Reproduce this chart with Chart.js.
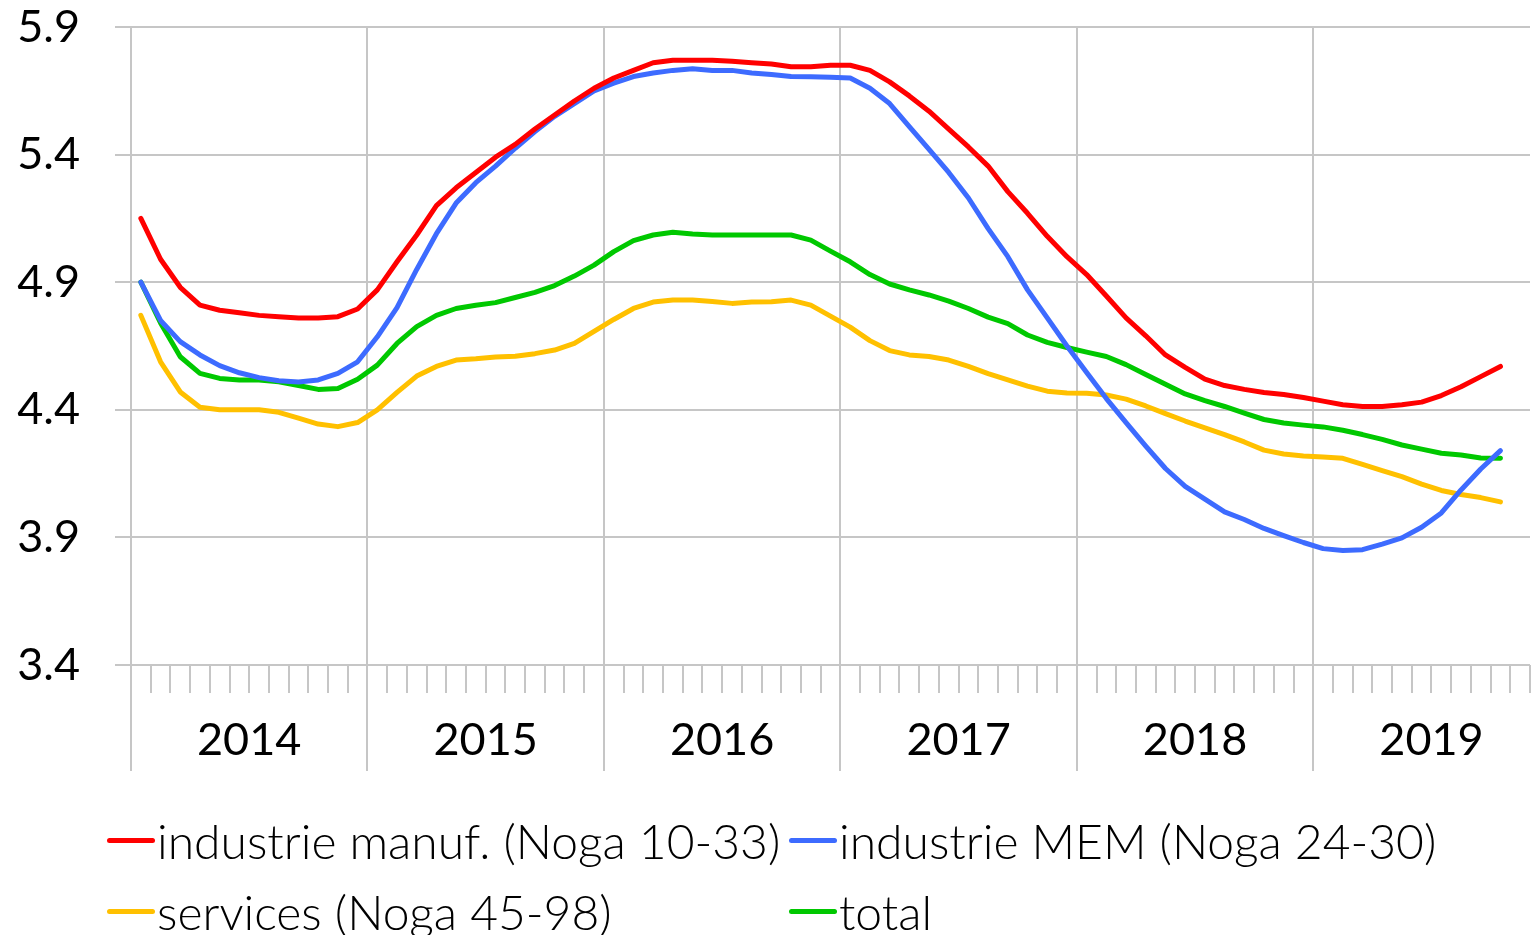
<!DOCTYPE html>
<html lang="fr">
<head>
<meta charset="utf-8">
<title>Noga</title>
<script src="https://cdn.jsdelivr.net/npm/chart.js@4.4.1/dist/chart.umd.min.js"></script>
<style>
    body { margin: 0; background: #fff; }
    #contenedor { position: relative; width: 1532px; height: 935px; }
    #leyenda {
        position: absolute; left: 107px; top: 805px;
        display: grid; grid-template-columns: 682px auto; grid-auto-rows: 71px;
        font-family: Lato, sans-serif; font-weight: 300; font-size: 48px; color: #000;
    }
    .item { display: flex; align-items: center; white-space: nowrap; }
    .marca { width: 48px; height: 5px; border-radius: 3px; margin-right: 2px; }
</style>
</head>
<body>
<div id="contenedor">
    <canvas id="grafico" width="1532" height="935"></canvas>
    <div id="leyenda"></div>
</div>
<script>
// Years on the axis (the last one stops in November)
const anios = [2014, 2015, 2016, 2017, 2018, 2019];
const mesesUltimoAnio = 11;

// Monthly values, Jan 2014 - Oct 2019
const manuf = [5.15, 4.99, 4.88, 4.81, 4.79, 4.78, 4.77, 4.765, 4.76, 4.76, 4.765, 4.795,
    4.87, 4.98, 5.085, 5.20, 5.27, 5.33, 5.39, 5.44, 5.50, 5.555, 5.61, 5.66,
    5.70, 5.73, 5.76, 5.77, 5.77, 5.77, 5.766, 5.76, 5.755, 5.744, 5.744, 5.75,
    5.75, 5.73, 5.685, 5.63, 5.57, 5.50, 5.43, 5.355, 5.255, 5.17, 5.08, 5.00,
    4.93, 4.846, 4.76, 4.69, 4.615, 4.566, 4.52, 4.495, 4.48, 4.468, 4.46, 4.448,
    4.434, 4.42, 4.413, 4.413, 4.42, 4.43, 4.456, 4.49, 4.53, 4.57];
const mem = [4.90, 4.75, 4.667, 4.615, 4.573, 4.545, 4.526, 4.514, 4.509, 4.517, 4.543, 4.588,
    4.686, 4.80, 4.95, 5.09, 5.21, 5.29, 5.355, 5.425, 5.49, 5.55, 5.60, 5.65,
    5.68, 5.706, 5.72, 5.73, 5.736, 5.73, 5.73, 5.72, 5.714, 5.706, 5.705, 5.703,
    5.70, 5.66, 5.60, 5.51, 5.42, 5.33, 5.23, 5.11, 5.00, 4.87, 4.76, 4.65,
    4.546, 4.444, 4.35, 4.258, 4.17, 4.10, 4.05, 4.00, 3.97, 3.935, 3.907, 3.88,
    3.856, 3.849, 3.852, 3.874, 3.898, 3.94, 3.996, 4.086, 4.168, 4.24];
const services = [4.77, 4.588, 4.47, 4.41, 4.40, 4.40, 4.40, 4.39, 4.367, 4.344, 4.334, 4.35,
    4.40, 4.468, 4.532, 4.57, 4.595, 4.60, 4.607, 4.61, 4.62, 4.634, 4.66, 4.707,
    4.754, 4.797, 4.822, 4.83, 4.83, 4.824, 4.817, 4.822, 4.823, 4.83, 4.81, 4.767,
    4.724, 4.671, 4.632, 4.615, 4.609, 4.595, 4.57, 4.542, 4.517, 4.493, 4.473, 4.466,
    4.465, 4.458, 4.442, 4.415, 4.385, 4.356, 4.329, 4.303, 4.274, 4.242, 4.227, 4.219,
    4.215, 4.21, 4.186, 4.162, 4.138, 4.109, 4.084, 4.068, 4.056, 4.039];
const total = [4.90, 4.74, 4.608, 4.543, 4.523, 4.517, 4.517, 4.51, 4.495, 4.48, 4.483, 4.52,
    4.575, 4.66, 4.726, 4.77, 4.797, 4.81, 4.82, 4.84, 4.86, 4.887, 4.924, 4.967,
    5.02, 5.063, 5.085, 5.096, 5.089, 5.085, 5.085, 5.085, 5.085, 5.085, 5.065, 5.022,
    4.98, 4.93, 4.893, 4.87, 4.85, 4.826, 4.797, 4.763, 4.738, 4.693, 4.664, 4.644,
    4.626, 4.609, 4.577, 4.538, 4.50, 4.462, 4.436, 4.413, 4.387, 4.362, 4.348, 4.34,
    4.333, 4.32, 4.303, 4.284, 4.262, 4.246, 4.23, 4.223, 4.211, 4.21];

const nombres = ['industrie manuf. (Noga 10-33)', 'industrie MEM (Noga 24-30)', 'services (Noga 45-98)', 'total'];
const colores = ['#ff0000', '#3d6bff', '#ffc000', '#00c800'];
const series = [manuf, mem, services, total];

// Y ticks
const yMin = 3.4;
const yMax = 5.9;
const yPaso = 0.5;

const colorRejilla = '#c6c6c6';
const fuente = { family: 'Lato, sans-serif', size: 45, weight: 400 };

// Month labels, the year is shown on June (shifted half a month)
const etiquetas = [];
anios.forEach((anio, k) => {
    const n = k === anios.length - 1 ? mesesUltimoAnio : 12;
    for (let m = 1; m <= n; m++) etiquetas.push(anio + '-' + String(m).padStart(2, '0'));
});

// Longer vertical lines below the axis at each year boundary
const lineasAnio = {
    id: 'lineasAnio',
    afterDraw(chart) {
        const x = chart.scales.x;
        const ctx = chart.ctx;
        const mitad = (x.getPixelForValue(1) - x.getPixelForValue(0)) / 2;
        const abajo = chart.chartArea.bottom;
        ctx.save();
        ctx.strokeStyle = colorRejilla;
        ctx.lineWidth = 2;
        for (let i = 0; i < etiquetas.length; i += 12) {
            const px = Math.round(x.getPixelForValue(i) - mitad);
            ctx.beginPath();
            ctx.moveTo(px, abajo + 26);
            ctx.lineTo(px, abajo + 106);
            ctx.stroke();
        }
        ctx.restore();
    }
};

new Chart(document.getElementById('grafico'), {
    type: 'line',
    data: {
        labels: etiquetas,
        datasets: series.map((datos, i) => ({
            label: nombres[i],
            data: datos,
            borderColor: colores[i],
            backgroundColor: colores[i],
            borderWidth: 5,
            borderCapStyle: 'round',
            borderJoinStyle: 'round',
            pointRadius: 0,
            tension: 0
        }))
    },
    options: {
        responsive: false,
        animation: false,
        devicePixelRatio: 1,
        layout: { padding: { top: 27, right: 2, left: 0, bottom: 0 } },
        plugins: {
            legend: { display: false },
            tooltip: { enabled: false }
        },
        scales: {
            x: {
                type: 'category',
                offset: true,
                grid: {
                    offset: true,
                    color: ctx => (ctx.index % 12 === 0 ? colorRejilla : 'transparent'),
                    tickColor: colorRejilla,
                    lineWidth: 2,
                    tickLength: 28
                },
                border: { display: false },
                ticks: {
                    autoSkip: false,
                    maxRotation: 0,
                    padding: 20,
                    labelOffset: 9.85,
                    color: '#000',
                    font: fuente,
                    callback(valor, i) {
                        const e = etiquetas[i];
                        return e.endsWith('-06') ? e.slice(0, 4) : '';
                    }
                },
                afterFit(scale) {
                    scale.height = 270;
                    scale.paddingLeft = 0;
                    scale.paddingRight = 0;
                }
            },
            y: {
                min: yMin,
                max: yMax,
                grid: {
                    color: colorRejilla,
                    tickColor: colorRejilla,
                    lineWidth: 2,
                    tickLength: 16
                },
                border: { display: false },
                ticks: {
                    stepSize: yPaso,
                    padding: 35,
                    color: '#000',
                    font: fuente,
                    callback: v => v.toFixed(1)
                },
                afterFit(scale) {
                    scale.width = 131;
                    scale.paddingTop = 0;
                    scale.paddingBottom = 0;
                }
            }
        }
    },
    plugins: [lineasAnio]
});

// HTML legend laid out in two columns
const leyenda = document.getElementById('leyenda');
nombres.forEach((nombre, i) => {
    const item = document.createElement('div');
    item.className = 'item';
    item.innerHTML = `<span class="marca" style="background:${colores[i]}"></span><span>${nombre}</span>`;
    leyenda.appendChild(item);
});
</script>
</body>
</html>
